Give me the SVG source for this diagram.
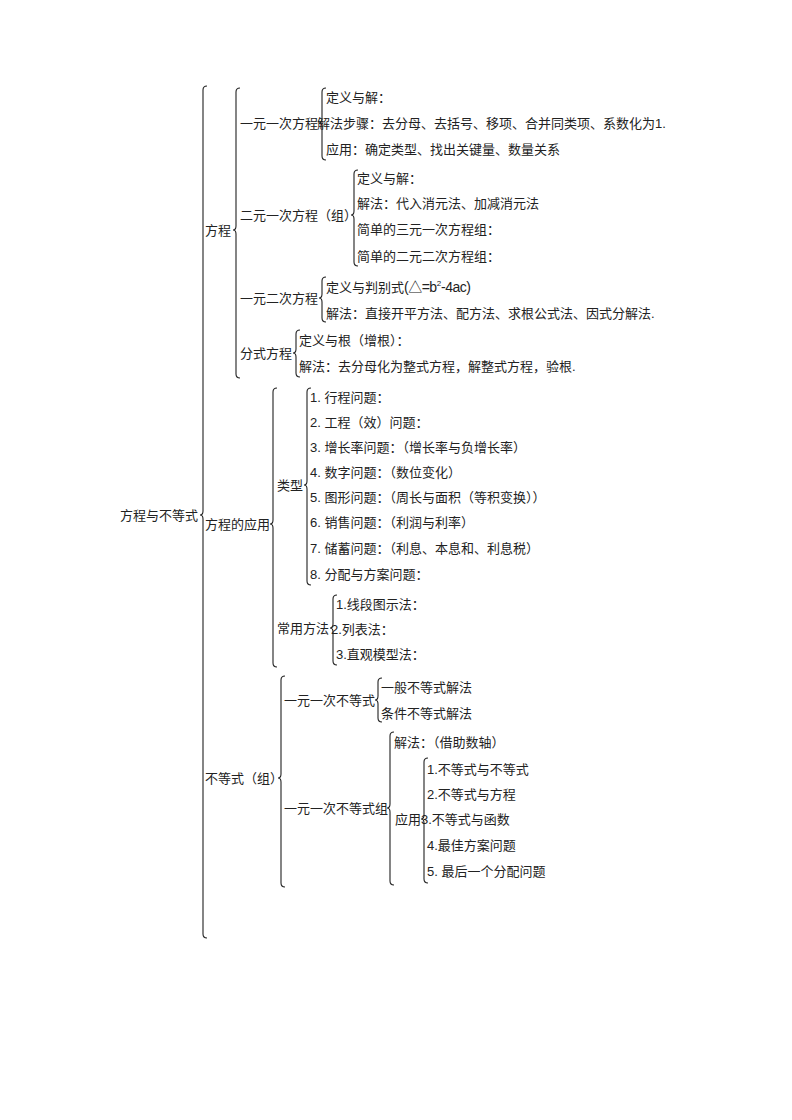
<svg xmlns="http://www.w3.org/2000/svg" width="792" height="1120" viewBox="0 0 792 1120">
<style>
text{font-family:"Liberation Sans","Noto Sans CJK SC",sans-serif;font-size:13px;fill:#222}
.b{fill:none;stroke:#222;stroke-width:1.1}
</style>
<rect width="792" height="1120" fill="#fff"/>
<g id="connectors">
<path class="b" d="M207,86 Q203,86 203,90 L203,511 Q203,515 200,515 Q203,515 203,519 L203,934 Q203,938 207,938"/>
<path class="b" d="M240,88 Q236,88 236,92 L236,226 Q236,230 233,230 Q236,230 236,234 L236,374 Q236,378 240,378"/>
<path class="b" d="M277,388 Q273,388 273,392 L273,520 Q273,524 270,524 Q273,524 273,528 L273,663 Q273,667 277,667"/>
<path class="b" d="M285,676 Q281,676 281,680 L281,774 Q281,778 278,778 Q281,778 281,782 L281,883 Q281,887 285,887"/>
<path class="b" d="M326,88 Q322,88 322,92 L322,119 Q322,123 319,123 Q322,123 322,127 L322,156 Q322,160 326,160"/>
<path class="b" d="M358,170 Q354,170 354,174 L354,211 Q354,215 351,215 Q354,215 354,219 L354,262 Q354,266 358,266"/>
<path class="b" d="M326,277 Q322,277 322,281 L322,294 Q322,298 319,298 Q322,298 322,302 L322,318 Q322,322 326,322"/>
<path class="b" d="M300,330 Q296,330 296,334 L296,349 Q296,353 293,353 Q296,353 296,357 L296,373 Q296,377 300,377"/>
<path class="b" d="M311,388 Q307,388 307,392 L307,481 Q307,485 304,485 Q307,485 307,489 L307,581 Q307,585 311,585"/>
<path class="b" d="M337,595 Q333,595 333,599 L333,624 Q333,628 330,628 Q333,628 333,632 L333,661 Q333,665 337,665"/>
<path class="b" d="M382,678 Q378,678 378,682 L378,696 Q378,700 375,700 Q378,700 378,704 L378,718 Q378,722 382,722"/>
<path class="b" d="M394,732 Q390,732 390,736 L390,804 Q390,808 387,808 Q390,808 390,812 L390,881 Q390,885 394,885"/>
<path class="b" d="M428,758 Q424,758 424,762 L424,815 Q424,819 421,819 Q424,819 424,823 L424,879 Q424,883 428,883"/>
</g>
<g id="root"><text x="120" y="520">方程与不等式</text></g>
<g id="n-fangcheng"><text x="205" y="235">方程</text></g>
<g id="n-yingyong"><text x="205" y="529">方程的应用</text></g>
<g id="n-budengshi"><text x="205" y="783">不等式（组）</text></g>
<g id="n-yyyc">
<text x="240" y="128">一元一次方程</text>
<text x="326" y="102">定义与解：</text>
<text x="317" y="128">解法步骤：去分母、去括号、移项、合并同类项、系数化为1.</text>
<text x="326" y="154">应用：确定类型、找出关键量、数量关系</text>
</g>
<g id="n-eyyc">
<text x="240" y="220">二元一次方程（组）</text>
<text x="357" y="183">定义与解：</text>
<text x="357" y="208">解法：代入消元法、加减消元法</text>
<text x="357" y="234">简单的三元一次方程组：</text>
<text x="357" y="261">简单的二元二次方程组：</text>
</g>
<g id="n-yyec">
<text x="240" y="303">一元二次方程</text>
<text x="326" y="292">定义与判别式<tspan font-size="14" letter-spacing="-0.5">(△=b</tspan><tspan font-size="8" dy="-6">2</tspan><tspan font-size="14" dy="6" letter-spacing="-0.5">-4ac)</tspan></text>
<text x="326" y="318">解法：直接开平方法、配方法、求根公式法、因式分解法.</text>
</g>
<g id="n-fenshi">
<text x="240" y="358">分式方程</text>
<text x="299" y="345">定义与根（增根）：</text>
<text x="299" y="371">解法：去分母化为整式方程，解整式方程，验根.</text>
</g>
<g id="n-leixing">
<text x="277" y="490">类型</text>
<text x="310" y="402">1. 行程问题：</text>
<text x="310" y="427">2. 工程（效）问题：</text>
<text x="310" y="452">3. 增长率问题：（增长率与负增长率）</text>
<text x="310" y="477">4. 数字问题：（数位变化）</text>
<text x="310" y="502">5. 图形问题：（周长与面积（等积变换））</text>
<text x="310" y="527">6. 销售问题：（利润与利率）</text>
<text x="310" y="553">7. 储蓄问题：（利息、本息和、利息税）</text>
<text x="310" y="579">8. 分配与方案问题：</text>
</g>
<g id="n-fangfa">
<text x="277" y="633">常用方法</text>
<text x="336" y="609">1.线段图示法：</text>
<text x="331" y="634">2.列表法：</text>
<text x="336" y="659">3.直观模型法：</text>
</g>
<g id="n-bds1">
<text x="284" y="705">一元一次不等式</text>
<text x="381" y="692">一般不等式解法</text>
<text x="381" y="718">条件不等式解法</text>
</g>
<g id="n-bds2">
<text x="284" y="813">一元一次不等式组</text>
<text x="394" y="747">解法：（借助数轴）</text>
</g>
<g id="n-bdsyy">
<text x="395" y="824">应用</text>
<text x="427" y="774">1.不等式与不等式</text>
<text x="427" y="799">2.不等式与方程</text>
<text x="421" y="824">3.不等式与函数</text>
<text x="427" y="850">4.最佳方案问题</text>
<text x="427" y="876">5. 最后一个分配问题</text>
</g>
</svg>
